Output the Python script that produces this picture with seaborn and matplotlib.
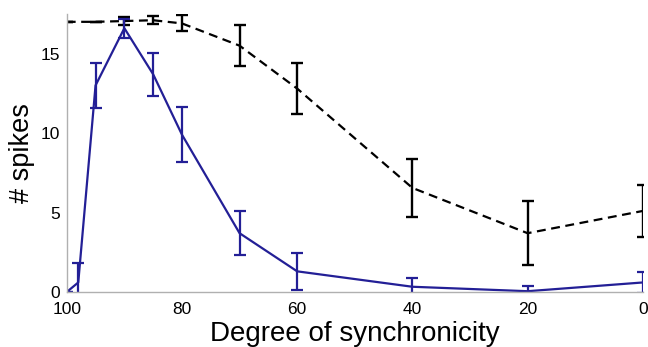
import matplotlib
matplotlib.use('Agg')
import matplotlib.pyplot as plt
import seaborn as sns
import pandas as pd

# data
sync_blue = [100, 98, 95, 90, 85, 80, 70, 60, 40, 20, 0]
spikes_blue = [0.0, 0.6, 13.0, 16.6, 13.7, 9.9, 3.7, 1.3, 0.33, 0.05, 0.6]
err_blue = [0.0, 1.2, 1.4, 0.6, 1.35, 1.75, 1.4, 1.15, 0.55, 0.3, 0.65]

sync_black = [100, 95, 90, 85, 80, 70, 60, 40, 20, 0]
spikes_black = [17.0, 17.0, 17.05, 17.1, 16.9, 15.5, 12.8, 6.55, 3.7, 5.1]
err_black = [0.0, 0.0, 0.25, 0.25, 0.5, 1.3, 1.6, 1.8, 2.0, 1.65]

blue_col = '#231f96'
spine_col = '#b0b0b0'

sns.set_style('white')
plt.rcParams['font.family'] = ['Liberation Sans', 'DejaVu Sans']
plt.rcParams['text.color'] = 'black'
plt.rcParams['axes.labelcolor'] = 'black'
plt.rcParams['xtick.color'] = 'black'
plt.rcParams['ytick.color'] = 'black'

blue_df = pd.DataFrame({'sync': sync_blue, 'spikes': spikes_blue})
black_df = pd.DataFrame({'sync': sync_black, 'spikes': spikes_black})

fig = plt.figure(figsize=(6.48, 3.47), dpi=100)
ax = fig.add_axes([0.103, 0.1585, 0.889, 0.8015])

# black dashed curve
sns.lineplot(data=black_df, x='sync', y='spikes', ax=ax, color='black',
             linewidth=1.6, sort=False, dashes=False)
ax.lines[-1].set_dashes((4, 2.5))
ax.errorbar(sync_black, spikes_black, yerr=err_black, fmt='none',
            ecolor='black', elinewidth=1.7, capsize=4.5, capthick=1.7)

# blue solid curve
sns.lineplot(data=blue_df, x='sync', y='spikes', ax=ax, color=blue_col,
             linewidth=1.6, sort=False)
ax.errorbar(sync_blue, spikes_blue, yerr=err_blue, fmt='none',
            ecolor=blue_col, elinewidth=1.6, capsize=4.5, capthick=1.6)

ax.set_xlim(100, 0)
ax.set_ylim(0, 17.5)
ax.set_xticks([100, 80, 60, 40, 20, 0])
ax.set_yticks([0, 5, 10, 15])
ax.tick_params(axis='x', direction='in', length=4, width=0.8,
               color=spine_col, labelsize=12.5, pad=7)
ax.tick_params(axis='y', direction='out', length=3, width=0.8,
               color=spine_col, labelsize=12.5, pad=2)

for s in ['top', 'right']:
    ax.spines[s].set_visible(False)
for s in ['left', 'bottom']:
    ax.spines[s].set_color(spine_col)
    ax.spines[s].set_linewidth(1.0)

ax.set_xlabel('Degree of synchronicity', fontsize=20, labelpad=3)
ax.set_ylabel('# spikes', fontsize=19.5, labelpad=4)

plt.savefig('out.png', dpi=100)
